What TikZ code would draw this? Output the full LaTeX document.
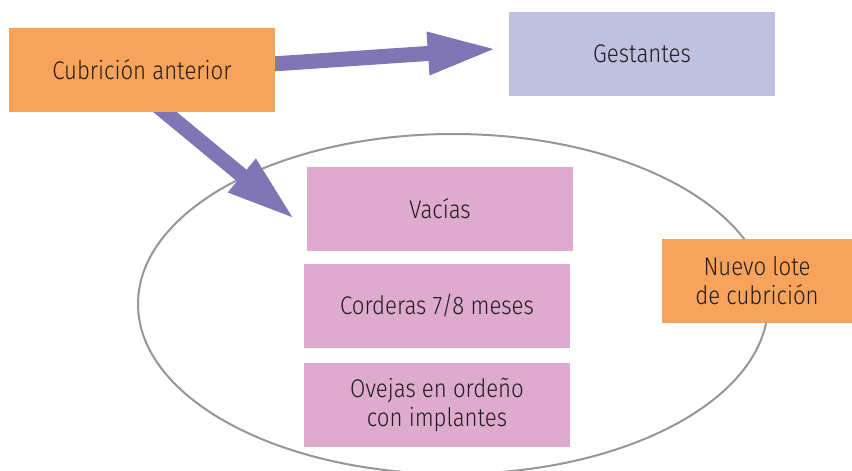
\documentclass[tikz,border=0pt]{standalone}
\usepackage{fontspec}
\setmainfont{Fira Sans Light}[FakeStretch=0.87]
\usetikzlibrary{arrows.meta,shapes.geometric,backgrounds}
\definecolor{orangebox}{RGB}{247,163,92}
\definecolor{lavbox}{RGB}{192,192,224}
\definecolor{pinkbox}{RGB}{222,170,206}
\definecolor{arrowpurple}{RGB}{128,118,182}
\definecolor{ellgray}{RGB}{150,150,150}
\definecolor{textdark}{RGB}{30,28,30}
\tikzset{
  box/.style={rectangle, inner sep=0pt, text=textdark, align=center,
    font=\fontsize{25.5}{29}\selectfont},
  orangenode/.style={box, fill=orangebox},
  lavnode/.style={box, fill=lavbox},
  pinknode/.style={box, fill=pinkbox},
  bigarrow/.style={draw=arrowpurple, line width=15pt,
    -{Triangle[length=70pt,width=39pt,fill=arrowpurple]}},
}
\begin{document}
\begin{tikzpicture}[x=1pt,y=-1pt]
\useasboundingbox (0,0) rectangle (852,471);
\node[orangenode, minimum width=266pt, minimum height=84pt] (cub) at (142,70) {Cubrición anterior};
\node[lavnode, minimum width=266pt, minimum height=84pt] (ges) at (642,54) {Gestantes};
\node[pinknode, minimum width=266pt, minimum height=84pt] (vac) at (440,209) {Vacías};
\node[pinknode, minimum width=266pt, minimum height=84pt] (cor) at (437,306) {Corderas 7/8 meses};
\node[pinknode, minimum width=266pt, minimum height=84pt] (ove) at (437,405) {Ovejas en ordeño\\con implantes};
\node[orangenode, minimum width=190pt, minimum height=84pt] (nue) at (757,281) {Nuevo lote\\de cubrición};
\begin{scope}[on background layer]
\begin{scope}
\clip (0,0) rectangle (852,471);
\node[draw=ellgray, line width=2pt, ellipse, minimum width=630pt, minimum height=340pt, inner sep=0pt] (grp) at (453,304) {};
\end{scope}
\draw[bigarrow, shorten >=11pt] ([xshift=-40pt,yshift=3.5pt]cub.east) -- ([yshift=6pt]ges.west);
\draw[bigarrow] ([xshift=-28pt]cub.center) -- ([xshift=-11pt,yshift=-11pt]vac.west);
\end{scope}
\end{tikzpicture}
\end{document}
